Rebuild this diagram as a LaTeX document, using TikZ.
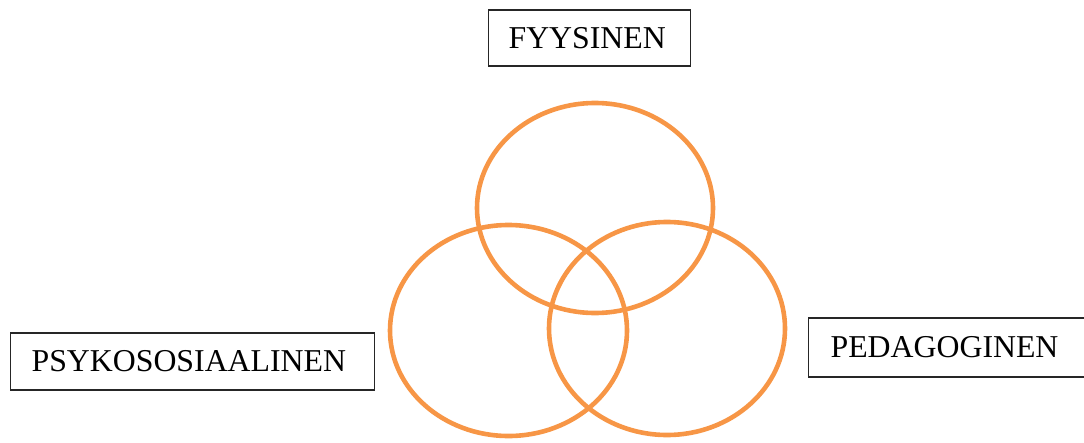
\documentclass[tikz,border=0pt]{standalone}
\usepackage{fontspec}
\setmainfont{Liberation Serif}
\usetikzlibrary{shapes.geometric}
\definecolor{ringorange}{HTML}{F79646}
\tikzset{
  label box/.style={draw=black!85, line width=1.2pt, anchor=west, align=left,
    inner ysep=0pt, minimum height=#1, font=\fontsize{31.8}{36}\selectfont},
  ring/.style={ellipse, draw=ringorange, line width=4.6pt, inner sep=0pt}
}
\begin{document}
\begin{tikzpicture}[x=1pt, y=-1pt]
  \useasboundingbox (0,0) rectangle (1084,442);
  % three overlapping rings
  \node[ring, minimum width=236pt, minimum height=210pt] (fyys) at (595,208) {};
  \node[ring, minimum width=237pt, minimum height=211pt] (psyk) at (508.5,330.5) {};
  \node[ring, minimum width=236pt, minimum height=213pt] (peda) at (667,328.5) {};
  % labels; the right-hand box runs past the page edge
  \node[label box=56pt, inner xsep=20pt, text width=162pt] (lfyys) at (488,38) {FYYSINEN};
  \node[label box=57pt, inner xsep=21pt, text width=322pt] (lpsyk) at (10,361.5) {PSYKOSOSIAALINEN};
  \node[label box=59pt, inner xsep=22pt, text width=250pt] (lpeda) at (808,347.5) {PEDAGOGINEN};
\end{tikzpicture}
\end{document}
